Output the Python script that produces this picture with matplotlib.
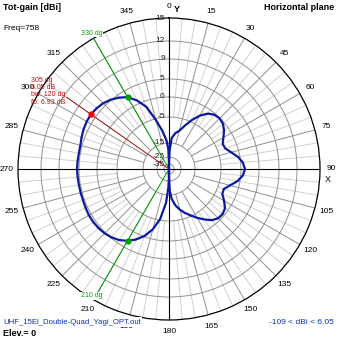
import numpy as np
import matplotlib
matplotlib.use("Agg")
import matplotlib.pyplot as plt

plt.rcParams['font.family'] = ['Liberation Sans', 'DejaVu Sans']

# horizontal-plane total gain, azimuth in degrees (clockwise from Y)
azimuth = [0, 1, 2, 5, 10, 15, 20, 25, 30, 35, 40, 45, 50, 55, 60, 65, 70, 75,
           80, 85, 90, 95, 100, 105, 110, 115, 120, 125, 130, 135, 140, 145,
           150, 155, 160, 165, 170, 175, 178, 179, 180, 181, 182, 185, 190,
           195, 200, 205, 210, 215, 220, 225, 230, 235, 240, 245, 250, 255,
           260, 265, 270, 275, 280, 285, 290, 295, 300, 305, 310, 315, 320,
           325, 330, 335, 340, 345, 350, 355, 358, 359, 360]
gain_dbi = [-109, -28, -20, -13, -11, -9.8, -7.3, -4.5, -2.6, -1.1, -0.3, -0.1,
            -0.4, -1.2, -2.3, -3.2, -3.0, -1.9, -0.5, 0.6, 1.1, 0.6, -0.6,
            -2.2, -3.4, -3.3, -2.1, -0.9, -0.5, -0.6, -1.3, -2.6, -3.9, -5.3,
            -7.0, -8.8, -10.8, -13.5, -18, -26, -100, -27, -20, -12, -5.5,
            -2.4, -0.2, 1.6, 3.05, 4.1, 4.8, 5.2, 5.4, 5.5, 5.5, 5.4, 5.3,
            5.3, 5.3, 5.35, 5.4, 5.35, 5.3, 5.35, 5.6, 5.85, 6.0, 6.05, 5.9,
            5.6, 5.1, 4.2, 3.05, 1.0, -1.5, -5.5, -10, -14, -19, -27, -109]

ring_db = [15, 12, 9, 5, 0, -5, -15, -25, -35]
angle_labels = [0, 15, 30, 45, 60, 75, 90, 105, 120, 135, 150, 165, 180, 195,
                210, 225, 240, 255, 270, 285, 300, 315, 330, 345]

max_dir, max_gain = 305, 6.05
beamwidth, front_back = 120, 6.93
hp_dirs = [330, 210]
hp_gain = 3.05
freq = 758
elev = 0
min_gain = -109
out_file = 'UHF_15El_Double-Quad_Yagi_OPT.out'

# compressed dB radial scale (interpolated between ring knots)
knot_db = [-110, -35, -25, -15, -5, 0, 5, 9, 12, 15, 30]
knot_r = [0, 5, 12, 26, 52, 72, 90, 110, 128, 151, 266]


def fwd(v):
    return np.interp(v, knot_db, knot_r)


def inv(r):
    return np.interp(r, knot_r, knot_db)


W = 339
fig = plt.figure(figsize=(W / 100, W / 100), dpi=100)
ax = fig.add_axes([18 / W, 19 / W, 302 / W, 302 / W], projection='polar')
ax.set_theta_zero_location('N')
ax.set_theta_direction(-1)
ax.set_rscale('function', functions=(fwd, inv))
ax.set_ylim(-110, 15)
ax.grid(False)
ax.set_yticks([])
ax.spines['polar'].set_color('black')
ax.spines['polar'].set_linewidth(0.9)

top, bottom = 15, -110
full = np.linspace(0, 2 * np.pi, 361)
for db in ring_db[1:]:
    ax.plot(full, np.full_like(full, db), color='#909090', lw=0.7, zorder=1)
for a in range(0, 360, 5):
    th = np.deg2rad(a)
    if a % 90 == 0:
        ax.plot([th, th], [bottom, top], color='black', lw=0.8, zorder=2)
    elif a % 15 == 0:
        ax.plot([th, th], [-15, top], color='#909090', lw=0.7, zorder=1)
    else:
        ax.plot([th, th], [-5, top], color='#d0d0d0', lw=0.7, zorder=0.5)

ax.set_xticks(np.deg2rad(angle_labels))
ax.set_xticklabels(['' if a == 330 else str(a) for a in angle_labels],
                   fontsize=6)
ax.tick_params(axis='x', pad=-2)

for db in ring_db:
    ax.annotate(str(db), xy=(0, db), xytext=(-3, 0), textcoords='offset points',
                ha='right', va='center', fontsize=6, color='#202020', zorder=3)

ax.annotate('Y', xy=(0, top), xytext=(8, 8), textcoords='offset pixels',
            ha='center', va='center', fontsize=6.5, fontweight='bold',
            annotation_clip=False)
ax.annotate('X', xy=(np.pi / 2, top), xytext=(8, -10), textcoords='offset pixels',
            ha='center', va='center', fontsize=6.5, annotation_clip=False)

# half-power directions
green = '#00a000'
for d in hp_dirs:
    th = np.deg2rad(d)
    ax.plot([th, th], [bottom, top], color=green, lw=0.7, zorder=3)
    ax.plot(th, hp_gain, 'o', color=green, ms=3.5, zorder=5)
    ax.annotate(f'{d} dg', xy=(th, top), xytext=(-2, 5 if d == 330 else 4),
                textcoords='offset pixels', ha='center', va='center',
                fontsize=5, color=green, annotation_clip=False, zorder=6,
                bbox=dict(boxstyle='square,pad=0.05', fc='white', ec='none'))

# maximum direction marker
red = '#c01010'
th_max = np.deg2rad(max_dir)
ax.plot([th_max, th_max], [bottom, 11.5], color='#a01010', lw=0.7, zorder=3)
ax.plot(th_max, max_gain, 'o', color='red', ms=3.5, zorder=5)
ax.annotate(f'{max_dir} dg\n{max_gain:.2f} dB\nbw: {beamwidth} dg\nfb: {front_back:.2f} dB',
            xy=(th_max, 11.5), xytext=(-1, 6), textcoords='offset pixels',
            ha='right', va='center', multialignment='left', fontsize=5,
            color=red, linespacing=1.05, zorder=6)

ax.plot(np.deg2rad(azimuth), gain_dbi, color='#0a1aa0', lw=1.6, zorder=4)


def px(x, y):
    return x / W, 1 - y / W


fig.text(*px(3, 8), 'Tot-gain [dBi]', fontsize=6.5, fontweight='bold', va='center')
fig.text(*px(334, 8), 'Horizontal plane', fontsize=6.5, fontweight='bold',
         va='center', ha='right')
fig.text(*px(3, 28), f'Freq={freq}', fontsize=6, va='center')
fig.text(*px(3, 322), out_file, fontsize=5.6, va='center', color='#1030b0',
         bbox=dict(boxstyle='square,pad=0.15', fc='white', ec='none'))
fig.text(*px(3, 334), f'Elev.= {elev}', fontsize=6.5, fontweight='bold', va='center')
fig.text(*px(334, 323), f'{min_gain} < dBi < {max_gain:.2f}', fontsize=6,
         va='center', ha='right', color='#1030b0')

fig.savefig('out.png', dpi=100)
